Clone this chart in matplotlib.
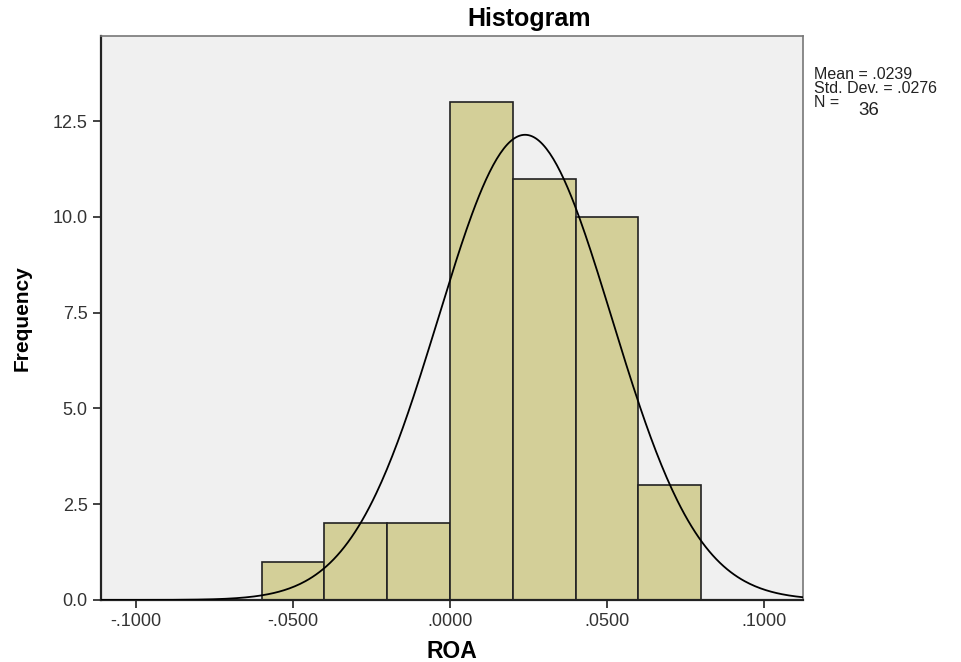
import numpy as np
import matplotlib.pyplot as plt

plt.rcParams['font.family'] = ['Liberation Sans', 'DejaVu Sans']

# bin edges and counts
bin_left = [-0.06, -0.04, -0.02, 0.00, 0.02, 0.04, 0.06]
counts = [1, 2, 2, 13, 11, 10, 3]
bin_width = 0.02
mean = 0.0239
std = 0.0276

xticks = [-0.1, -0.05, 0.0, 0.05, 0.1]
xtick_labels = ["-.1000", "-.0500", ".0000", ".0500", ".1000"]
yticks = [0.0, 2.5, 5.0, 7.5, 10.0, 12.5]

fig = plt.figure(figsize=(9.61, 6.62), dpi=100)
ax = fig.add_axes([0.1051, 0.0937, 0.7305, 0.8519])
ax.set_facecolor('#f0f0f0')

ax.bar(bin_left, counts, width=bin_width, align='edge',
       color='#d3cf98', edgecolor='#222222', linewidth=1.2, zorder=2)

# normal curve scaled to the histogram
x = np.linspace(-0.112, 0.113, 400)
n = sum(counts)
y = n * bin_width / (std * np.sqrt(2 * np.pi)) * np.exp(-0.5 * ((x - mean) / std) ** 2)
ax.plot(x, y, color='black', linewidth=1.3, zorder=3)

ax.set_xlim(-0.1111, 0.1124)
ax.set_ylim(0, 14.72)
ax.set_xticks(xticks)
ax.set_xticklabels(xtick_labels)
ax.set_yticks(yticks)
ax.set_yticklabels([f"{v:.1f}" for v in yticks])
ax.tick_params(axis='both', labelsize=13, colors='#333333', length=6, width=1.3)

for side in ['left', 'bottom']:
    ax.spines[side].set_linewidth(1.6)
    ax.spines[side].set_color('#222222')
for side in ['top', 'right']:
    ax.spines[side].set_linewidth(1.2)
    ax.spines[side].set_color('#777777')

fig.text(529 / 961, 1 - 26 / 662, "Histogram", fontsize=18, fontweight='bold',
         ha='center', va='baseline')
ax.set_xlabel("ROA", fontsize=16.5, fontweight='bold', va='center')
ax.xaxis.set_label_coords(0.5, -0.092)
ax.set_ylabel("Frequency", fontsize=15, fontweight='bold', va='center')
ax.yaxis.set_label_coords(-0.1125, 0.5)

fig.text(814 / 961, 1 - 79 / 662, "Mean = .0239", fontsize=11.5, va='baseline', color='#222222')
fig.text(814 / 961, 1 - 93 / 662, "Std. Dev. = .0276", fontsize=11.5, va='baseline', color='#222222')
fig.text(814 / 961, 1 - 107 / 662, "N = ", fontsize=11.5, va='baseline', color='#222222')
fig.text(858 / 961, 1 - 115 / 662, "36", fontsize=13.5, va='baseline', color='#222222')

fig.savefig("out.png", dpi=100)
